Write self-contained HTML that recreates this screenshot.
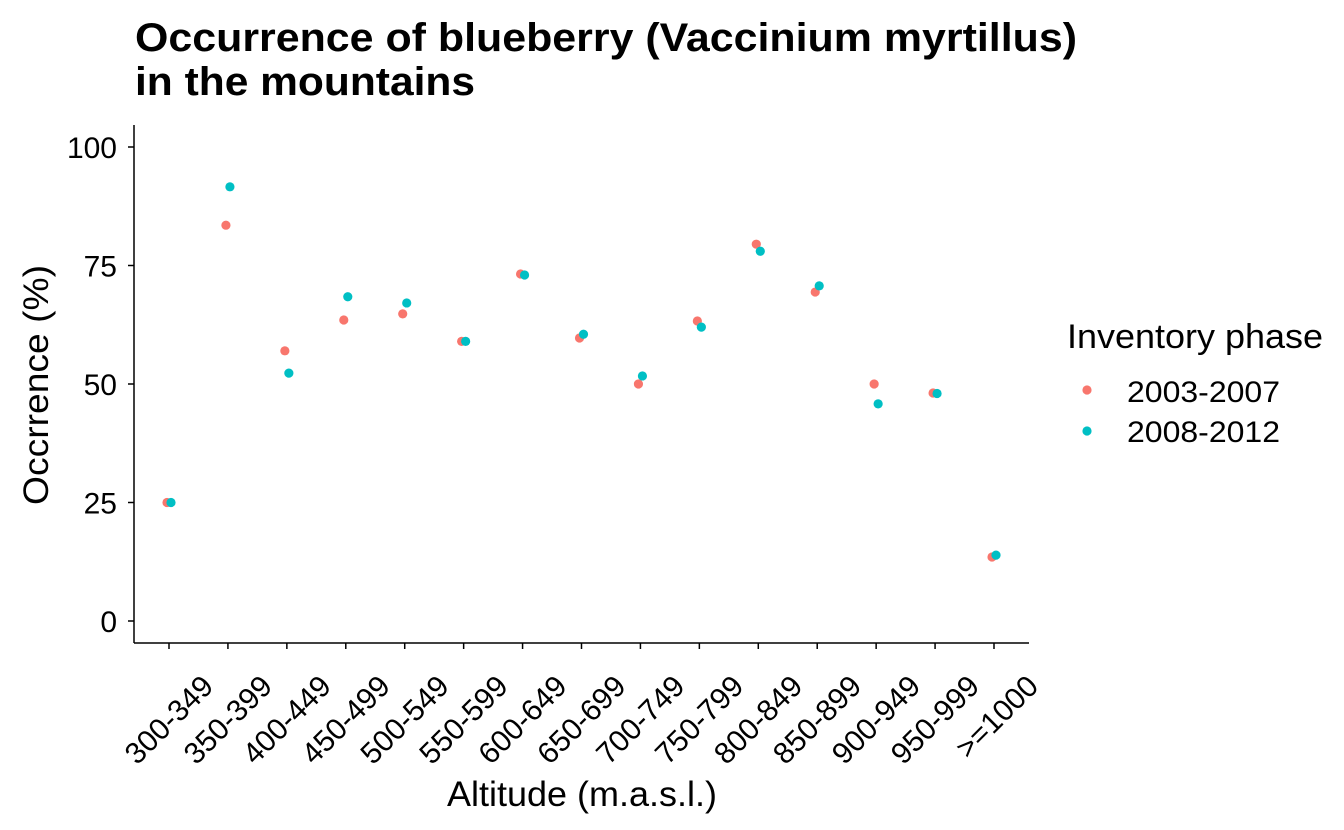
<!DOCTYPE html>
<html><head><meta charset="utf-8"><style>
body{margin:0;background:#fff}
svg{display:block;font-family:"Liberation Sans",Arial,sans-serif}
</style></head><body>
<svg id="chart" width="1344" height="830">
<text x="135" y="51" font-size="40" font-weight="bold" textLength="942" lengthAdjust="spacingAndGlyphs">Occurrence of blueberry (Vaccinium myrtillus)</text>
<text x="135" y="95" font-size="40" font-weight="bold" textLength="340" lengthAdjust="spacingAndGlyphs">in the mountains</text>
<line x1="134" y1="125" x2="134" y2="643" stroke="#000" stroke-width="1.5"/>
<line x1="134" y1="643" x2="1029" y2="643" stroke="#000" stroke-width="1.5"/>
<g id="yt"></g><g id="xt"></g><g id="pts"></g>
<text x="582" y="806" font-size="35" text-anchor="middle" textLength="270" lengthAdjust="spacingAndGlyphs">Altitude (m.a.s.l.)</text>
<text transform="translate(48,385) rotate(-90)" font-size="35" text-anchor="middle" textLength="240" lengthAdjust="spacingAndGlyphs">Occrrence (%)</text>
<g>
<text x="1067" y="348" font-size="34" textLength="256" lengthAdjust="spacingAndGlyphs">Inventory phase</text>
<circle cx="1087" cy="390" r="4.6" fill="#F8766D"/>
<text x="1127" y="402" font-size="30" textLength="153" lengthAdjust="spacingAndGlyphs">2003-2007</text>
<circle cx="1087" cy="431" r="4.6" fill="#00BFC4"/>
<text x="1127" y="442" font-size="30" textLength="153" lengthAdjust="spacingAndGlyphs">2008-2012</text>
</g>
</svg>
<script>
const categories=["300-349","350-399","400-449","450-499","500-549","550-599","600-649","650-699","700-749","750-799","800-849","850-899","900-949","950-999",">=1000"];
const series2003=[25,83.5,57,63.5,64.8,59,73.2,59.7,50,63.3,79.5,69.4,50,48.1,13.5];
const series2008=[25,91.6,52.3,68.4,67.1,59,73,60.5,51.7,62,78,70.7,45.8,48,13.9];
const yTicks=[0,25,50,75,100];
const NS="http://www.w3.org/2000/svg";
const xs=i=>169+i*(994-169)/14;
const ys=v=>621-v*4.74;
function mk(t,a,p){const e=document.createElementNS(NS,t);for(const k in a)e.setAttribute(k,a[k]);p.appendChild(e);return e;}
const yt=document.getElementById('yt'),xt=document.getElementById('xt'),pts=document.getElementById('pts');
yTicks.forEach(v=>{
 const l=mk('line',{x1:128,x2:134,y1:ys(v),y2:ys(v),stroke:'#000','stroke-width':1.5},yt);
 
 
 const t=mk('text',{x:117,y:ys(v)+11,'font-size':30,'text-anchor':'end'},yt);
 t.textContent=v;
 
 
});
categories.forEach((c,i)=>{
 const x=xs(i);
 const l=mk('line',{x1:x,x2:x,y1:643,y2:649,stroke:'#000','stroke-width':1.5},xt);
 
 
 const t=mk('text',{transform:`translate(${x+46},${688}) rotate(-45)`,'font-size':30,'text-anchor':'end'},xt);
 t.textContent=c;
 
 
});
[[series2003,'#F8766D',-2,'point-2003'],[series2008,'#00BFC4',2,'point-2008']].forEach(([s,col,dx,nm])=>{
 s.forEach((v,i)=>{
  const c=mk('circle',{cx:xs(i)+dx,cy:ys(v),r:4.6,fill:col},pts);
  
  
 });
});
</script>
</body></html>
